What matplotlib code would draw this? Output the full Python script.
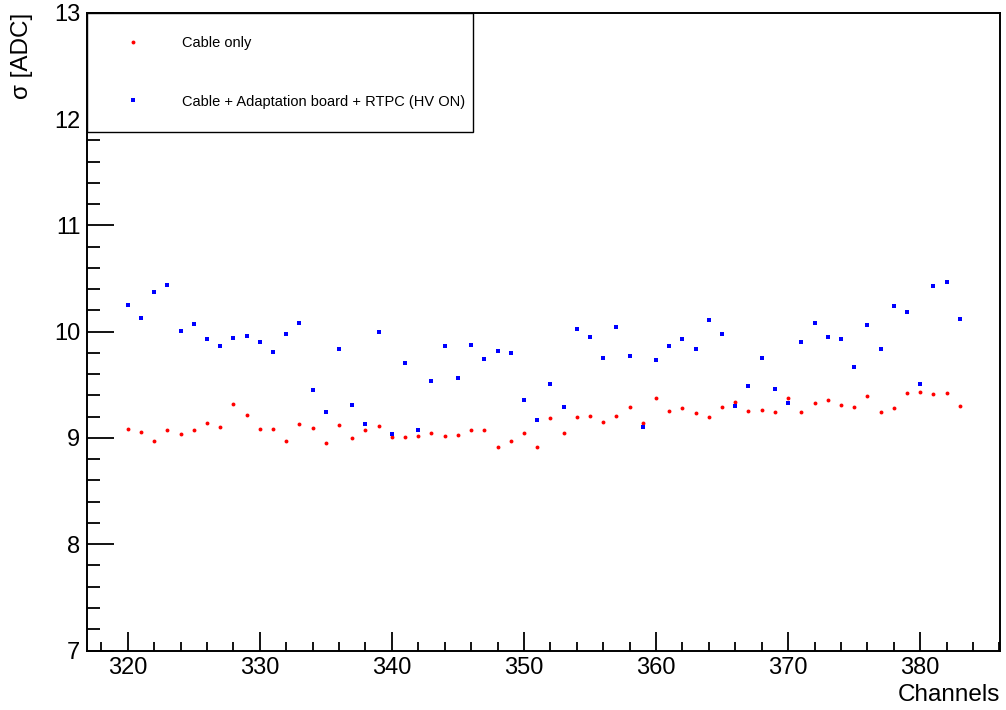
import matplotlib
matplotlib.use("Agg")
import matplotlib.pyplot as plt
from matplotlib.ticker import MultipleLocator
import numpy as np

plt.rcParams['font.family'] = ['Liberation Sans', 'DejaVu Sans']

channels = list(range(320, 384))

cable_only = [
    9.08, 9.06, 8.97, 9.075, 9.04, 9.07, 9.14, 9.10, 9.32, 9.22,   # 320-329
    9.08, 9.08, 8.97, 9.13, 9.09, 8.95, 9.12, 9.00, 9.07, 9.11,    # 330-339
    9.01, 9.01, 9.02, 9.05, 9.015, 9.03, 9.07, 9.07, 8.91, 8.97,   # 340-349
    9.05, 8.91, 9.19, 9.05, 9.20, 9.205, 9.145, 9.21, 9.29, 9.14,  # 350-359
    9.38, 9.25, 9.28, 9.23, 9.195, 9.29, 9.34, 9.25, 9.26, 9.245, # 360-369
    9.38, 9.24, 9.33, 9.355, 9.31, 9.29, 9.39, 9.24, 9.28, 9.42,  # 370-379
    9.43, 9.41, 9.42, 9.30,                                        # 380-383
]

cable_board_rtpc = [
    10.25, 10.125, 10.37, 10.44, 10.01, 10.07, 9.93, 9.86, 9.94, 9.955,  # 320-329
    9.90, 9.81, 9.98, 10.08, 9.45, 9.24, 9.84, 9.31, 9.13, 10.00,        # 330-339
    9.04, 9.70, 9.07, 9.54, 9.86, 9.56, 9.87, 9.74, 9.82, 9.80,          # 340-349
    9.36, 9.17, 9.51, 9.29, 10.02, 9.95, 9.755, 10.04, 9.77, 9.10,       # 350-359
    9.73, 9.86, 9.93, 9.84, 10.11, 9.98, 9.30, 9.485, 9.755, 9.46,       # 360-369
    9.33, 9.90, 10.08, 9.95, 9.93, 9.67, 10.06, 9.84, 10.24, 10.18,      # 370-379
    9.51, 10.43, 10.47, 10.12,                                           # 380-383
]

label_red = "Cable only"
label_blue = "Cable + Adaptation board + RTPC (HV ON)"

fig = plt.figure(figsize=(10.06, 7.10), dpi=100)
ax = fig.add_axes([0.0868, 0.0838, 0.9073, 0.8983])

ax.plot(channels, cable_only, linestyle='none', marker='o', markersize=2.8,
        markerfacecolor='#ff0000', markeredgewidth=0, color='#ff0000', label=label_red)
ax.plot(channels, cable_board_rtpc, linestyle='none', marker='s', markersize=3.4,
        markerfacecolor='#0000ff', markeredgewidth=0, color='#0000ff', label=label_blue)

ax.set_xlim(316.94, 386.05)
ax.set_ylim(7, 13)

ax.xaxis.set_major_locator(MultipleLocator(10))
ax.xaxis.set_minor_locator(MultipleLocator(2))
ax.yaxis.set_major_locator(MultipleLocator(1))
ax.yaxis.set_minor_locator(MultipleLocator(0.2))

for s in ax.spines.values():
    s.set_linewidth(1.4)

ax.tick_params(axis='both', which='both', direction='in', top=False, right=False,
               width=1.3, labelsize=17)
ax.tick_params(axis='x', which='major', length=13.7, pad=5)
ax.tick_params(axis='x', which='minor', length=6.5)
ax.tick_params(axis='y', which='major', length=19.5, pad=5)
ax.tick_params(axis='y', which='minor', length=9.5)

ax.set_ylabel("σ [ADC]", fontsize=17.5, loc='top')
ax.yaxis.set_label_coords(-0.059, 1.0)
ax.set_xlabel("Channels", fontsize=17.5, loc='right')
ax.xaxis.set_label_coords(1.0, -0.052)
ax.xaxis.label.set_va('top')

leg = ax.legend(loc='upper left', bbox_to_anchor=(0.0, 0.815, 0.4223, 0.185),
                mode='expand', borderaxespad=0, fontsize=10.5, frameon=True,
                fancybox=False, framealpha=1, edgecolor='black',
                borderpad=1.6, labelspacing=3.05, handlelength=3.1,
                handletextpad=1.8, markerscale=1.0)
leg.get_frame().set_linewidth(1.0)
leg.set_zorder(10)

fig.savefig("out.png", dpi=100, facecolor='white')
